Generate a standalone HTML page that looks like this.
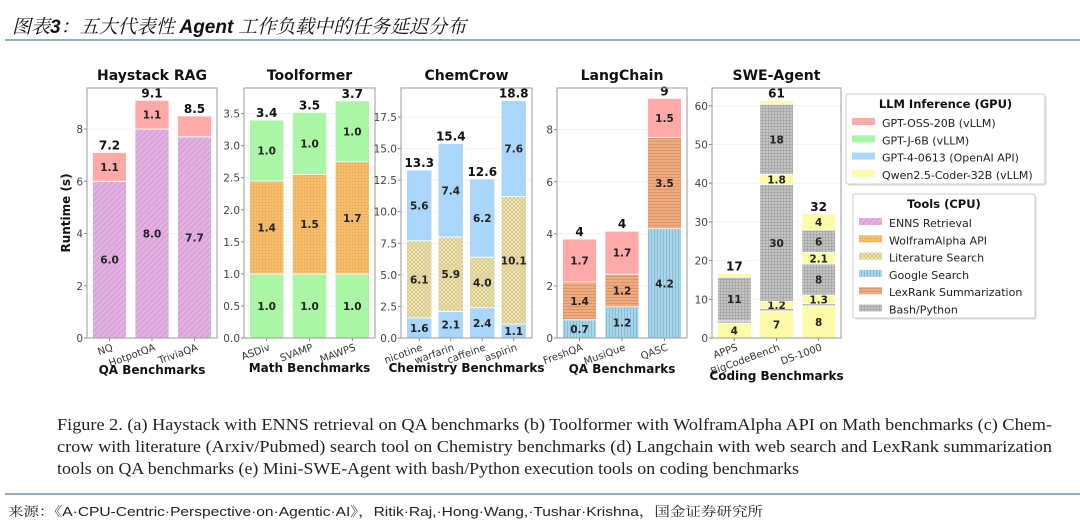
<!DOCTYPE html>
<html><head><meta charset="utf-8"><style>
html,body{margin:0;padding:0;background:#fff}
svg{display:block}
.d{font-family:"DejaVu Sans","Liberation Sans",sans-serif}
</style></head><body>
<svg id="c" width="1080" height="523" viewBox="0 0 1080 523" xmlns="http://www.w3.org/2000/svg">
<defs>
 <pattern id="p-enns" width="4" height="4" patternUnits="userSpaceOnUse" patternTransform="rotate(45)"><rect width="4" height="4" fill="#e3b0e3"/><line x1="0" y1="0" x2="0" y2="4" stroke="#c08ac0" stroke-width="1"/></pattern>
 <pattern id="p-wolf" width="3" height="3" patternUnits="userSpaceOnUse"><rect width="3" height="3" fill="#f7bc6a"/><circle cx="1.5" cy="1.5" r="0.5" fill="#d39a50"/></pattern>
 <pattern id="p-lit" width="4" height="4" patternUnits="userSpaceOnUse"><rect width="4" height="4" fill="#f0e8b0"/><path d="M0 0L4 4M4 0L0 4" stroke="#c4b880" stroke-width="0.6"/></pattern>
 <pattern id="p-goog" width="3" height="3" patternUnits="userSpaceOnUse"><rect width="3" height="3" fill="#a8d6ea"/><line x1="0.5" y1="0" x2="0.5" y2="3" stroke="#7ab0c8" stroke-width="0.7"/></pattern>
 <pattern id="p-lex" width="3" height="3" patternUnits="userSpaceOnUse"><rect width="3" height="3" fill="#efaa80"/><line x1="0" y1="0.5" x2="3" y2="0.5" stroke="#d08a5c" stroke-width="0.7"/></pattern>
 <pattern id="p-bash" width="3" height="3" patternUnits="userSpaceOnUse"><rect width="3" height="3" fill="#c4c4c4"/><path d="M0 0.5H3M0.5 0V3" stroke="#979797" stroke-width="0.5"/></pattern>
</defs>
<g id="root" class="d"></g>
</svg>
<script>
// ===== data =====
const haystackCats = ["NQ","HotpotQA","TriviaQA"];
const haystackEnns = [6.0, 8.0, 7.7];
const haystackOss = [1.1, 1.1, 0.8];
const haystackEnnsLabels = ["6.0","8.0","7.7"];
const haystackOssLabels = ["1.1","1.1",""];
const haystackTotals = ["7.2","9.1","8.5"];
const haystackTicks = [0,2,4,6,8];

const toolCats = ["ASDiv","SVAMP","MAWPS"];
const toolGptjA = [1.0, 1.0, 1.0];
const toolWolf = [1.45, 1.55, 1.75];
const toolGptjB = [0.95, 0.97, 0.95];
const toolGptjALabels = ["1.0","1.0","1.0"];
const toolWolfLabels = ["1.4","1.5","1.7"];
const toolGptjBLabels = ["1.0","1.0","1.0"];
const toolTotals = ["3.4","3.5","3.7"];
const toolTicks = [0,0.5,1.0,1.5,2.0,2.5,3.0,3.5];

const chemCats = ["nicotine","warfarin","caffeine","aspirin"];
const chemGpt4A = [1.6, 2.1, 2.4, 1.1];
const chemLit = [6.1, 5.9, 4.0, 10.1];
const chemGpt4B = [5.6, 7.4, 6.2, 7.6];
const chemGpt4ALabels = ["1.6","2.1","2.4","1.1"];
const chemLitLabels = ["6.1","5.9","4.0","10.1"];
const chemGpt4BLabels = ["5.6","7.4","6.2","7.6"];
const chemTotals = ["13.3","15.4","12.6","18.8"];
const chemTicks = [0,2.5,5,7.5,10,12.5,15,17.5];

const langCats = ["FreshQA","MusiQue","QASC"];
const langGoogle = [0.7, 1.2, 4.2];
const langLex = [1.45, 1.25, 3.5];
const langOss = [1.65, 1.65, 1.5];
const langGoogleLabels = ["0.7","1.2","4.2"];
const langLexLabels = ["1.4","1.2","3.5"];
const langOssLabels = ["1.7","1.7","1.5"];
const langTotals = ["4","4","9"];
const langTicks = [0,2,4,6,8];

const sweCats = ["APPS","BigCodeBench","DS-1000"];
const sweQ1 = [3.8, 7.0, 8.3];
const sweB1 = [0.6, 0.6, 0.6];
const sweQ2 = [0.0, 1.9, 2.2];
const sweB2 = [11.3, 30.2, 8.0];
const sweQ3 = [1.0, 2.6, 3.0];
const sweB3 = [0.0, 18.1, 5.8];
const sweQ4 = [0.0, 1.0, 4.2];
const sweQ1Labels = ["4","7","8"];
const sweQ2Labels = ["","1.2","1.3"];
const sweB2Labels = ["11","30","8"];
const sweQ3Labels = ["","1.8","2.1"];
const sweB3Labels = ["","18","6"];
const sweQ4Labels = ["","","4"];
const sweTotals = ["17","61","32"];
const sweTicks = [0,10,20,30,40,50,60];

// ===== drawing =====
const NS = "http://www.w3.org/2000/svg";
const root = document.getElementById("root");
function mk(tag, attrs, parent, txt){
  const e = document.createElementNS(NS, tag);
  for (const k in attrs) e.setAttribute(k, attrs[k]);
  if (txt !== undefined) e.textContent = txt;
  (parent||root).appendChild(e);
  return e;
}
const FILL = {oss:"#ffa9a9", gptj:"#aaf5a6", gpt4:"#aad6fb", qwen:"#fdfba8",
  enns:"url(#p-enns)", wolf:"url(#p-wolf)", lit:"url(#p-lit)", goog:"url(#p-goog)", lex:"url(#p-lex)", bash:"url(#p-bash)"};

function panel(cfg){
  const g = mk("g", {});
  
  
  const L=cfg.left, R=cfg.right, T=88, B=338;
  const y = v => B - v/cfg.ymax*(B-T);
  const n = cfg.cats.length, m = cfg.margin;
  const x = i => L + (i + 0.5 + m)/(n + 2*m)*(R-L);
  const bw = 0.8/(n+2*m)*(R-L);
  cfg.ticks.forEach(t=>{
    const gl = mk("line",{x1:L,x2:R,y1:y(t),y2:y(t),stroke:"#f0f0f0","stroke-width":0.8},g);
    
    
    const tl = mk("text",{x:L-4,y:y(t)+4,"text-anchor":"end","font-size":10.5,fill:"#444"},g,cfg.fmt(t));
    
    
    mk("line",{x1:L-3,x2:L,y1:y(t),y2:y(t),stroke:"#888"},g);
  });
  cfg.cats.forEach((c,i)=>{
    let base = 0;
    cfg.series.forEach(s=>{
      const v = s.vals[i];
      if (v > 0){
        const r = mk("rect",{x:x(i)-bw/2,y:y(base+v),width:bw,height:y(base)-y(base+v),fill:FILL[s.key],stroke:"#ffffff","stroke-width":0.8},g);
        
        
        const lab = s.labels ? s.labels[i] : "";
        if (lab){
          const t = mk("text",{x:x(i),y:(y(base)+y(base+v))/2+4,"text-anchor":"middle","font-size":10.5,"font-weight":"bold",fill:"#222"},g,lab);
          
          
        }
      }
      base += v;
    });
    const tt = mk("text",{x:x(i),y:y(base)-3,"text-anchor":"middle","font-size":12,"font-weight":"bold",fill:"#111"},g,cfg.totals[i]);
    
    
    mk("line",{x1:x(i),x2:x(i),y1:B,y2:B+3,stroke:"#888"},g);
    const xl = mk("text",{x:x(i)+4,y:B+12,"text-anchor":"end","font-size":10,fill:"#333",transform:`rotate(-20 ${x(i)+4} ${B+12})`},g,c);
    
    
  });
  const fr = mk("rect",{x:L,y:T,width:R-L,height:B-T,fill:"none",stroke:"#999","stroke-width":1},g);
  
  
  const ti = mk("text",{x:(L+R)/2,y:80,"text-anchor":"middle","font-size":14,"font-weight":"bold",fill:"#111"},g,cfg.title);
  
  
  const xt = mk("text",{x:(L+R)/2,y:cfg.xlabY,"text-anchor":"middle","font-size":12,"font-weight":"bold",fill:"#111"},g,cfg.xlabel);
  
  
}
const f1 = t=>String(t), f2 = t=>t.toFixed(1);
panel({name:"haystack",title:"Haystack RAG",xlabel:"QA Benchmarks",xlabY:374,left:87,right:217,ymax:9.57,margin:0.03,ticks:haystackTicks,fmt:f1,cats:haystackCats,totals:haystackTotals,
  series:[{key:"enns",vals:haystackEnns,labels:haystackEnnsLabels},{key:"oss",vals:haystackOss,labels:haystackOssLabels}]});
panel({name:"toolformer",title:"Toolformer",xlabel:"Math Benchmarks",xlabY:372,left:244,right:375,ymax:3.9,margin:0.03,ticks:toolTicks,fmt:f2,cats:toolCats,totals:toolTotals,
  series:[{key:"gptj",vals:toolGptjA,labels:toolGptjALabels},{key:"wolf",vals:toolWolf,labels:toolWolfLabels},{key:"gptj",vals:toolGptjB,labels:toolGptjBLabels}]});
panel({name:"chemcrow",title:"ChemCrow",xlabel:"Chemistry Benchmarks",xlabY:372,left:401,right:532,ymax:19.8,margin:0.08,ticks:chemTicks,fmt:f2,cats:chemCats,totals:chemTotals,
  series:[{key:"gpt4",vals:chemGpt4A,labels:chemGpt4ALabels},{key:"lit",vals:chemLit,labels:chemLitLabels},{key:"gpt4",vals:chemGpt4B,labels:chemGpt4BLabels}]});
panel({name:"langchain",title:"LangChain",xlabel:"QA Benchmarks",xlabY:373,left:557,right:687,ymax:9.6,margin:0.03,ticks:langTicks,fmt:f1,cats:langCats,totals:langTotals,
  series:[{key:"goog",vals:langGoogle,labels:langGoogleLabels},{key:"lex",vals:langLex,labels:langLexLabels},{key:"oss",vals:langOss,labels:langOssLabels}]});
panel({name:"swe-agent",title:"SWE-Agent",xlabel:"Coding Benchmarks",xlabY:380,left:712,right:841,ymax:64.6,margin:0.03,ticks:sweTicks,fmt:f1,cats:sweCats,totals:sweTotals,
  series:[{key:"qwen",vals:sweQ1,labels:sweQ1Labels},{key:"bash",vals:sweB1},{key:"qwen",vals:sweQ2,labels:sweQ2Labels},{key:"bash",vals:sweB2,labels:sweB2Labels},
          {key:"qwen",vals:sweQ3,labels:sweQ3Labels},{key:"bash",vals:sweB3,labels:sweB3Labels},{key:"qwen",vals:sweQ4,labels:sweQ4Labels}]});

const yt = mk("text",{x:0,y:0,"text-anchor":"middle","font-size":12,"font-weight":"bold",fill:"#111",transform:"translate(70 213) rotate(-90)"},root,"Runtime (s)");



function legend(name,x0,y0,w,h,title,items){
  const g = mk("g",{});
  
  
  mk("rect",{x:x0+1.5,y:y0+1.5,width:w,height:h,fill:"#ddd",rx:2},g);
  mk("rect",{x:x0,y:y0,width:w,height:h,fill:"#fff",stroke:"#ccc",rx:2},g);
  mk("text",{x:x0+w/2,y:y0+14,"text-anchor":"middle","font-size":11.5,"font-weight":"bold",fill:"#111"},g,title);
  items.forEach((it,i)=>{
    const yy = y0+30+i*17.3;
    const e = mk("g",{},g);
    
    
    mk("rect",{x:x0+6,y:yy-6,width:23,height:7,fill:FILL[it[0]]},e);
    mk("text",{x:x0+36,y:yy+3,"font-size":11,fill:"#222"},e,it[1]);
  });
}
legend("legend-llm",846,94,199,90,"LLM Inference (GPU)",[["oss","GPT-OSS-20B (vLLM)"],["gptj","GPT-J-6B (vLLM)"],["gpt4","GPT-4-0613 (OpenAI API)"],["qwen","Qwen2.5-Coder-32B (vLLM)"]]);
legend("legend-tools",853,194,182,124,"Tools (CPU)",[["enns","ENNS Retrieval"],["wolf","WolframAlpha API"],["lit","Literature Search"],["goog","Google Search"],["lex","LexRank Summarization"],["bash","Bash/Python"]]);

const h = mk("text",{x:12,y:33,"font-size":19,"font-style":"italic",fill:"#111",style:"font-family:'Noto Serif CJK SC','Liberation Serif',serif"},root);
const h1 = mk("tspan",{},h,"图表");
const h2 = mk("tspan",{"font-weight":"bold",style:"font-family:'Liberation Sans',sans-serif"},h,"3");
const h3 = mk("tspan",{},h,"：五大代表性 ");
const h4 = mk("tspan",{"font-weight":"bold",style:"font-family:'Liberation Sans',sans-serif"},h,"Agent");
const h5 = mk("tspan",{},h," 工作负载中的任务延迟分布");


mk("line",{x1:5,x2:1080,y1:40,y2:40,stroke:"#6b93b0","stroke-width":1.5});
const cap = [
 [57,430,995,"Figure 2. (a) Haystack with ENNS retrieval on QA benchmarks (b) Toolformer with WolframAlpha API on Math benchmarks (c) Chem-"],
 [57,452,995,"crow with literature (Arxiv/Pubmed) search tool on Chemistry benchmarks (d) Langchain with web search and LexRank summarization"],
 [57,474,742,"tools on QA benchmarks (e) Mini-SWE-Agent with bash/Python execution tools on coding benchmarks"]];
cap.forEach(c=>{
  const t = mk("text",{x:c[0],y:c[1],"font-size":17,fill:"#222",textLength:c[2],lengthAdjust:"spacingAndGlyphs",style:"font-family:'Liberation Serif',serif"},root,c[3]);
  
  
});
mk("line",{x1:5,x2:1080,y1:494,y2:494,stroke:"#6b93b0","stroke-width":1.5});
const src = mk("text",{x:8,y:516,"font-size":13,fill:"#222",textLength:755,lengthAdjust:"spacingAndGlyphs",style:"font-family:'Liberation Sans','Noto Serif CJK SC',sans-serif"},root,"来源：《A·CPU-Centric·Perspective·on·Agentic·AI》，Ritik·Raj,·Hong·Wang,·Tushar·Krishna，国金证券研究所");


</script>
</body></html>
